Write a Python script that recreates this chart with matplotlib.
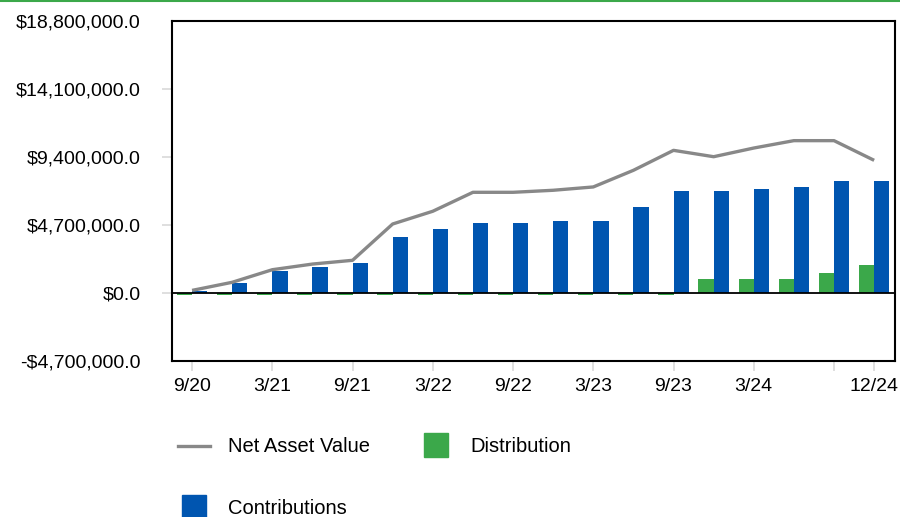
import numpy as np
import matplotlib
matplotlib.use("Agg")
from matplotlib import pyplot as plt
from matplotlib.lines import Line2D
from matplotlib.patches import Rectangle
from matplotlib.ticker import FuncFormatter

plt.rcParams['font.family'] = ['Liberation Sans', 'DejaVu Sans']

# quarterly periods 9/20 .. 12/24
quarters = ['9/20', '12/20', '3/21', '6/21', '9/21', '12/21', '3/22', '6/22', '9/22',
            '12/22', '3/23', '6/23', '9/23', '12/23', '3/24', '6/24', '9/24', '12/24']
# values in $ millions
nav = [0.18, 0.74, 1.61, 2.00, 2.26, 4.77, 5.65, 6.96, 6.96, 7.10, 7.33, 8.48,
       9.86, 9.42, 10.02, 10.53, 10.53, 9.17]
contributions = [0.16, 0.71, 1.54, 1.82, 2.10, 3.89, 4.45, 4.86, 4.86, 5.00, 5.00, 5.97,
                 7.07, 7.07, 7.21, 7.35, 7.76, 7.76]
distribution = [-0.13, -0.13, -0.13, -0.13, -0.13, -0.13, -0.13, -0.13, -0.13, -0.13,
                -0.13, -0.13, -0.13, 0.99, 0.99, 0.99, 1.41, 1.96]
tick_idx = [0, 2, 4, 6, 8, 10, 12, 14, 16, 17]
tick_lbl = ['9/20', '3/21', '9/21', '3/22', '9/22', '3/23', '9/23', '3/24', '', '12/24']
yticks = [-4.7, 0, 4.7, 9.4, 14.1, 18.8]

BLUE = '#0055B0'
GREEN = '#3BA84A'
GRAY = '#888888'

W, H = 900, 517
fig = plt.figure(figsize=(9, 5.17), dpi=100)
ax = fig.add_axes([172 / W, 1 - 361 / H, 723 / W, 340 / H])

x = np.arange(len(quarters))
bw = 0.38
ax.bar(x - bw / 2, distribution, bw, color=GREEN, zorder=2)
ax.bar(x + bw / 2, contributions, bw, color=BLUE, zorder=2)
ax.plot(x, nav, color=GRAY, lw=2.4, solid_capstyle='butt', zorder=4)
ax.axhline(0, color='black', lw=1.3, zorder=3)

ax.set_xlim(-0.5, 17.52)
ax.set_ylim(-4.7, 18.8)
ax.set_yticks(yticks)
ax.yaxis.set_major_formatter(FuncFormatter(lambda v, p: ('-$' if v < 0 else '$') + f'{abs(v) * 1e6:,.1f}'))
ax.set_xticks(tick_idx)
ax.set_xticklabels(tick_lbl)
ax.tick_params(axis='y', length=7.5, width=1.2, color='#d9d9d9', pad=15, labelsize=14)
ax.tick_params(axis='x', length=7.5, width=1.2, color='#d9d9d9', pad=5, labelsize=14)
for t in (ax.yaxis.get_major_ticks()[0], ax.yaxis.get_major_ticks()[-1]):
    t.tick1line.set_visible(False)
for s in ax.spines.values():
    s.set_linewidth(1.5)
    s.set_color('black')

# legend drawn by hand in figure pixels
def fx(px):
    return px / W

def fy(py):
    return 1 - py / H

fig.add_artist(Line2D([fx(178), fx(210)], [fy(446), fy(446)], color=GRAY, lw=2.4,
                      transform=fig.transFigure))
fig.text(fx(228), fy(446), 'Net Asset Value', fontsize=14.5, va='center', ha='left')
fig.add_artist(Rectangle((fx(424), fy(457)), 24 / W, 24 / H, color=GREEN,
                         transform=fig.transFigure))
fig.text(fx(470), fy(446), 'Distribution', fontsize=14.5, va='center', ha='left')
fig.add_artist(Rectangle((fx(182), fy(519)), 24 / W, 24 / H, color=BLUE,
                         transform=fig.transFigure))
fig.text(fx(228), fy(508), 'Contributions', fontsize=14.5, va='center', ha='left')

# thin green rule along the top edge
fig.add_artist(Line2D([0, 1], [fy(1), fy(1)], color=GREEN, lw=1.5, transform=fig.transFigure))

fig.savefig('out.png', dpi=100)
